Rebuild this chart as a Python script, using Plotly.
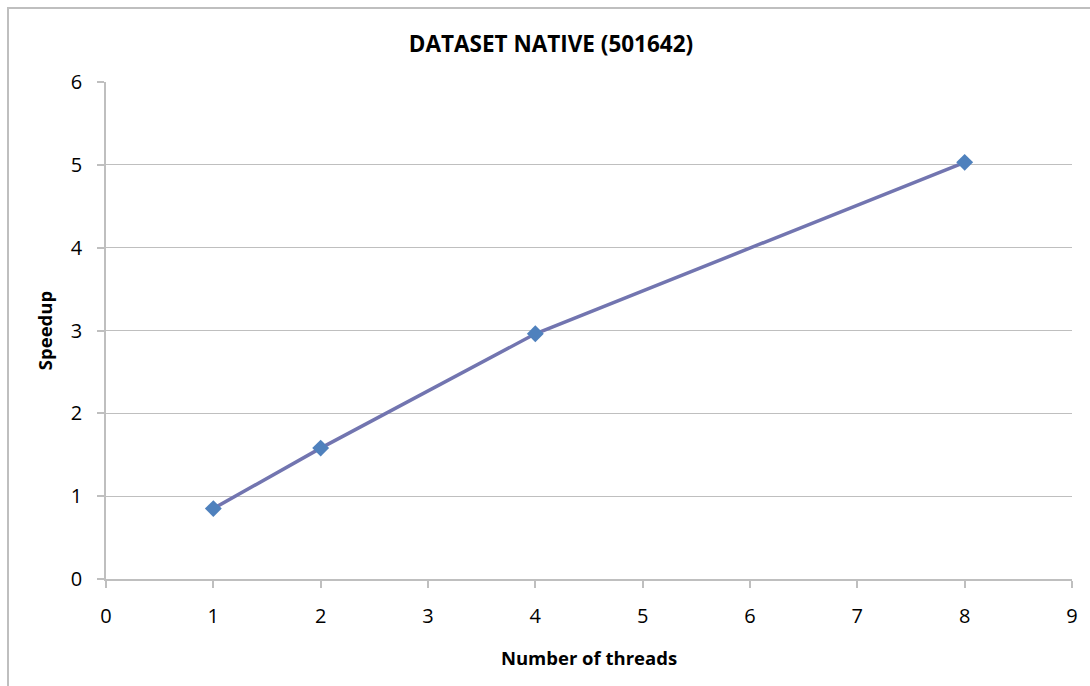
import plotly.graph_objects as go

threads = [1, 2, 4, 8]
speedup = [0.85, 1.58, 2.96, 5.03]
x_ticks = [0, 1, 2, 3, 4, 5, 6, 7, 8, 9]
y_ticks = [0, 1, 2, 3, 4, 5, 6]

FONT = "Open Sans"
W, H = 1090, 686
L, R, T, B = 106, 18, 82, 107
pw, ph = W - L - R, H - T - B

fig = go.Figure()
fig.add_trace(go.Scatter(
    x=threads, y=speedup, mode="lines+markers",
    line=dict(color="#7275B0", width=3.5),
    marker=dict(symbol="diamond", size=13, color="#4F81BD",
                line=dict(color="#4F81BD", width=0)),
    showlegend=False,
))

def px2x(p):
    return (p - L) / pw

def py2y(p):
    return (H - B - p) / ph

fig.update_layout(
    width=W, height=H,
    margin=dict(l=L, r=R, t=T, b=B),
    paper_bgcolor="white", plot_bgcolor="white",
    font=dict(family=FONT, color="#000000", size=20),
    title=dict(text="<b>DATASET NATIVE (501642)</b>", x=551 / W, xanchor="center",
               y=1 - 44 / H, yanchor="middle", font=dict(size=22.5, family=FONT)),
    xaxis=dict(range=[0, 9], tickvals=x_ticks, ticktext=[str(v) for v in x_ticks],
               showgrid=False, zeroline=False, showline=True, linecolor="#BFBFBF",
               linewidth=1.5, ticks="outside", ticklen=7, tickcolor="#BFBFBF",
               tickwidth=1.5, tickfont=dict(size=20), ticklabelstandoff=11,
               title=dict(text="<b>Number of threads</b>", font=dict(size=18.5), standoff=24)),
    yaxis=dict(range=[0, 6], tickvals=y_ticks, ticktext=[str(v) for v in y_ticks],
               showgrid=True, gridcolor="#BFBFBF", gridwidth=1.2, zeroline=False,
               showline=True, linecolor="#BFBFBF", linewidth=1.5, ticks="outside",
               ticklen=7, tickcolor="#BFBFBF", tickwidth=1.5, tickfont=dict(size=20),
               ticklabelstandoff=11,
               title=dict(text="<b>Speedup</b>", font=dict(size=18.5), standoff=13)),
)

fig.add_shape(type="rect", xref="paper", yref="paper",
              x0=px2x(8), x1=px2x(1100), y0=py2y(700), y1=py2y(8),
              line=dict(color="#BFBFBF", width=2), fillcolor="rgba(0,0,0,0)",
              layer="below")

fig.write_html("out.html")
